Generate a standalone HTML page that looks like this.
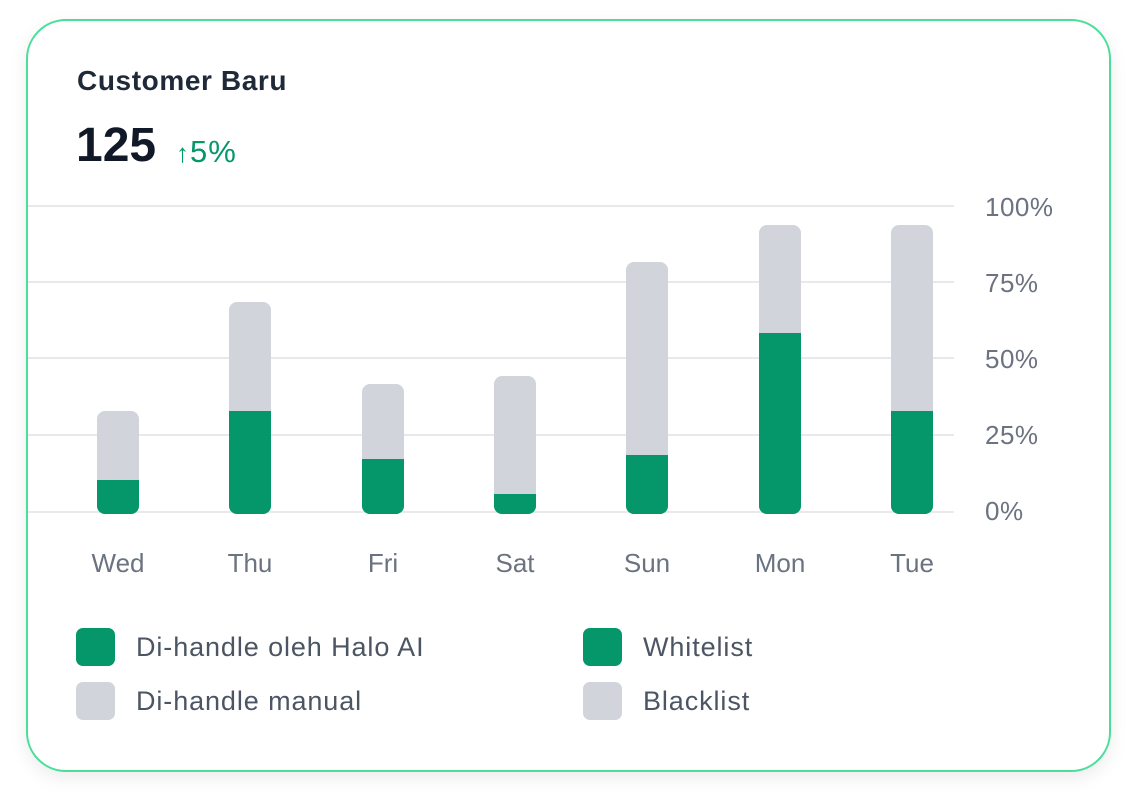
<!DOCTYPE html>
<html><head><style>
body{margin:0;width:1136px;height:804px;background:#fff;font-family:"Liberation Sans",sans-serif;position:relative;overflow:hidden}
.card{position:absolute;left:26px;top:19px;width:1085px;height:753px;border:2px solid #4ade9a;border-radius:40px;box-shadow:0 6px 18px rgba(0,0,0,0.08);box-sizing:border-box;background:#fff}
.t{position:absolute;white-space:nowrap}
.g{position:absolute;left:28px;width:926px;height:2px;background:#e8e9ed}
.bar{position:absolute;width:42px;border-radius:8px;overflow:hidden;background:#d1d5db}
.bar div{position:absolute;left:0;bottom:0;width:100%;background:#059669}
.yl{position:absolute;left:985px;font-size:26px;color:#6b7280;letter-spacing:0.5px}
.xl{position:absolute;top:548px;width:100px;text-align:center;font-size:26px;color:#6b7280}
.sq{position:absolute;width:39px;height:38px;border-radius:7px}
.lt{position:absolute;font-size:27px;color:#4b5563;letter-spacing:0.9px;white-space:nowrap}
</style></head><body>
<div class="card"></div>
<div class="t" style="left:77px;top:65px;font-size:28px;font-weight:bold;color:#1f2937;letter-spacing:0.6px">Customer Baru</div>
<div class="t" style="left:76px;top:118px;font-size:48px;font-weight:bold;color:#111827">125</div>
<div class="t" style="left:176px;top:134px;font-size:31px;color:#059669;letter-spacing:1px"><span style="font-size:26px">↑</span>5%</div>
<div class="g" style="top:205px"></div><div class="g" style="top:281px"></div><div class="g" style="top:357px"></div><div class="g" style="top:434px"></div><div class="g" style="top:511px"></div>
<div class="yl" style="top:192px">100%</div><div class="yl" style="top:268px">75%</div><div class="yl" style="top:344px">50%</div><div class="yl" style="top:420px">25%</div><div class="yl" style="top:496px">0%</div>
<div class="bar" style="left:97px;top:411px;height:103px"><div style="height:34px"></div></div>
<div class="bar" style="left:229px;top:302px;height:212px"><div style="height:103px"></div></div>
<div class="bar" style="left:362px;top:384px;height:130px"><div style="height:55px"></div></div>
<div class="bar" style="left:494px;top:376px;height:138px"><div style="height:20px"></div></div>
<div class="bar" style="left:626px;top:262px;height:252px"><div style="height:59px"></div></div>
<div class="bar" style="left:759px;top:225px;height:289px"><div style="height:181px"></div></div>
<div class="bar" style="left:891px;top:225px;height:289px"><div style="height:103px"></div></div>
<div class="xl" style="left:68px">Wed</div><div class="xl" style="left:200px">Thu</div><div class="xl" style="left:333px">Fri</div><div class="xl" style="left:465px">Sat</div><div class="xl" style="left:597px">Sun</div><div class="xl" style="left:730px">Mon</div><div class="xl" style="left:862px">Tue</div>
<div class="sq" style="left:76px;top:628px;background:#059669"></div>
<div class="sq" style="left:76px;top:682px;background:#d1d5db"></div>
<div class="sq" style="left:583px;top:628px;background:#059669"></div>
<div class="sq" style="left:583px;top:682px;background:#d1d5db"></div>
<div class="lt" style="left:136px;top:632px">Di-handle oleh Halo AI</div>
<div class="lt" style="left:136px;top:686px">Di-handle manual</div>
<div class="lt" style="left:643px;top:632px">Whitelist</div>
<div class="lt" style="left:643px;top:686px">Blacklist</div>
</body></html>
